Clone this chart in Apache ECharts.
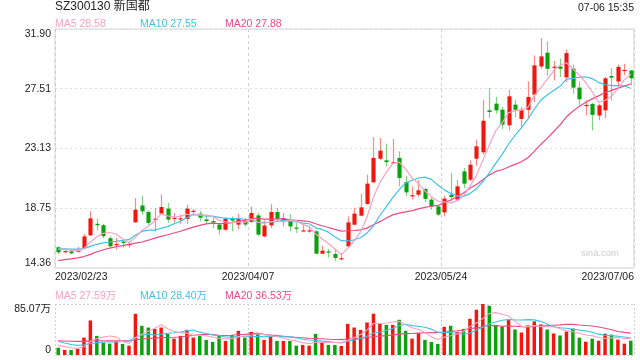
<!DOCTYPE html>
<html><head><meta charset="utf-8">
<script src="https://cdn.jsdelivr.net/npm/echarts@6/dist/echarts.min.js"></script>
<style>html,body{margin:0;padding:0;background:#fff}#c{width:640px;height:360px}</style>
</head><body><div id="c"></div>
<script>
const dates = ['2023/02/23','2023/02/24','2023/02/27','2023/02/28',
'2023/03/01','2023/03/02','2023/03/03','2023/03/06','2023/03/07','2023/03/08','2023/03/09','2023/03/10','2023/03/13','2023/03/14','2023/03/15','2023/03/16','2023/03/17','2023/03/20','2023/03/21','2023/03/22','2023/03/23','2023/03/24','2023/03/27','2023/03/28','2023/03/29','2023/03/30','2023/03/31',
'2023/04/03','2023/04/04','2023/04/06','2023/04/07','2023/04/10','2023/04/11','2023/04/12','2023/04/13','2023/04/14','2023/04/17','2023/04/18','2023/04/19','2023/04/20','2023/04/21','2023/04/24','2023/04/25','2023/04/26','2023/04/27','2023/04/28',
'2023/05/04','2023/05/05','2023/05/08','2023/05/09','2023/05/10','2023/05/11','2023/05/12','2023/05/15','2023/05/16','2023/05/17','2023/05/18','2023/05/19','2023/05/22','2023/05/23','2023/05/24','2023/05/25','2023/05/26','2023/05/29','2023/05/30','2023/05/31',
'2023/06/01','2023/06/02','2023/06/05','2023/06/06','2023/06/07','2023/06/08','2023/06/09','2023/06/12','2023/06/13','2023/06/14','2023/06/15','2023/06/16','2023/06/19','2023/06/20','2023/06/21','2023/06/26','2023/06/27','2023/06/28','2023/06/29','2023/06/30',
'2023/07/03','2023/07/04','2023/07/05','2023/07/06'];

const openP  = [15.88,15.55,15.58,15.55,15.83,16.76,17.60,17.50,16.55,16.05,16.30,16.08,17.71,18.95,18.47,17.94,18.35,18.72,17.98,17.95,
17.96,18.48,18.35,17.92,17.80,17.55,17.17,18.03,17.54,17.84,17.75,18.22,16.68,17.49,18.47,17.84,17.84,17.33,17.08,17.08,
17.05,15.41,15.58,15.39,15.00,15.95,17.54,18.20,19.06,20.65,22.38,22.26,22.08,22.44,20.68,19.64,19.74,20.16,19.38,18.88,
18.44,19.74,19.38,21.45,20.84,22.38,22.85,25.93,26.42,25.98,24.83,26.35,25.30,25.97,27.08,29.15,30.16,29.08,29.14,28.35,
28.99,27.60,26.28,26.40,25.55,25.93,28.45,28.05,28.84,28.86];
const closeP = [15.51,15.60,15.44,15.65,16.68,18.00,17.50,16.70,15.95,16.12,16.20,16.12,18.64,18.52,17.67,17.98,18.84,17.91,18.05,18.00,
18.72,18.56,18.05,17.80,17.70,17.18,17.98,17.84,17.98,17.55,18.40,16.81,17.47,18.47,17.96,18.03,17.41,17.28,17.12,17.12,
15.41,15.63,15.50,15.10,15.08,17.71,18.35,18.81,20.55,22.44,22.97,22.13,22.13,20.97,19.91,19.70,20.06,19.43,18.88,18.28,
19.45,19.57,20.35,20.55,21.94,23.29,25.17,25.81,25.93,24.88,26.96,25.97,25.97,26.91,29.23,29.89,28.98,29.14,28.98,30.13,
27.60,26.74,26.33,25.60,26.30,28.28,28.33,29.12,28.90,28.28];
const highP  = [15.95,15.78,15.66,15.90,16.86,18.52,18.00,17.60,16.70,16.57,16.48,16.35,19.50,19.67,18.60,18.75,19.75,19.13,18.40,18.28,
19.00,18.68,18.55,18.30,18.10,17.67,18.10,18.15,18.33,18.05,18.88,18.40,17.85,19.06,18.77,18.40,18.33,17.67,17.60,17.45,
17.12,16.00,15.76,15.71,15.47,18.15,18.77,19.82,21.21,23.98,23.90,23.49,23.83,22.92,21.14,20.35,20.80,20.25,19.57,18.98,
19.67,21.34,20.80,21.70,22.26,23.78,26.71,27.57,26.91,26.18,27.45,26.71,26.18,28.06,29.96,31.24,30.99,29.55,29.72,30.40,
29.28,28.06,26.66,26.49,26.42,28.38,29.04,29.28,29.35,28.86];
const lowP   = [15.39,15.45,15.36,15.50,15.78,16.70,17.10,16.55,15.88,15.72,15.85,15.85,17.68,18.28,17.50,17.05,18.33,17.67,17.70,17.60,
17.60,18.30,17.80,17.60,17.30,16.82,17.10,17.05,17.20,17.40,17.67,16.68,16.62,17.30,17.78,17.41,17.05,16.93,17.05,16.95,
15.38,15.38,15.14,14.85,14.90,15.90,17.50,18.18,19.00,20.60,22.30,21.82,22.05,20.35,19.62,19.38,19.55,19.20,18.64,18.20,
18.15,19.25,19.25,20.23,20.72,21.87,22.68,25.37,25.69,24.53,24.46,25.44,24.71,25.37,26.54,28.99,28.50,28.13,28.38,28.00,
27.15,26.30,25.56,24.46,25.20,25.37,26.66,27.52,28.50,27.76];
// volume in 万
const volume = [12.2,8.4,8.4,10.1,29.0,57.6,31.9,20.6,19.0,22.3,18.5,15.6,68.8,48.7,45.8,43.6,45.8,35.2,27.4,31.9,
41.9,29.0,31.9,25.2,21.8,31.9,23.5,33.6,40.3,29.0,38.6,35.2,25.2,31.9,23.5,23.5,23.5,15.6,16.8,15.6,
35.2,20.6,16.8,16.8,15.1,52.0,45.8,41.9,54.2,68.8,52.0,50.3,50.3,58.7,40.3,27.4,36.4,25.2,21.8,18.5,
47.0,48.7,38.6,43.6,60.4,75.5,85.07,82.2,50.3,47.5,59.4,42.6,37.6,49.4,56.1,51.0,42.6,35.9,32.6,39.3,
44.0,28.9,22.2,27.2,23.9,35.6,34.0,25.6,18.9,23.9];
// leading moving-average values (window extends before the first shown day)
const priceMa5Lead  = [15.75,15.72,15.66,15.62];
const priceMa10Lead = [15.76,15.76,15.75,15.75,15.78,15.95,16.10,16.20,16.27];
const priceMa20Lead = [14.90,14.97,15.03,15.10,15.20,15.36,15.55,15.70,15.82,15.92,16.00,16.10,16.18,16.27,16.40,16.55,16.68,16.80,16.93];
const volMa5Lead  = [16.0,14.0,12.0,11.0];
const volMa10Lead = [23.0,20.0,17.5,16.0,17.0,19.0,20.5,21.5,22.0];
const volMa20Lead = [23.5,23.3,23.0,22.8,22.8,23.5,23.8,23.8,23.8,23.8,23.8,23.6,25.5,26.5,27.5,28.2,29.0,29.3,29.6];

const priceTickLabels = ['14.36','18.75','23.13','27.51','31.90'];
const volTickLabels = ['0','85.07万'];
const dateTickLabels = [dates[0], dates[30], dates[60], dates[89]];
const titleText = 'SZ300130 新国都';
const timeText = '07-06 15:35';
const priceLegend = ['MA5 28.58','MA10 27.55','MA20 27.88'];
const volLegend = ['MA5 27.59万','MA10 28.40万','MA20 36.53万'];

const C_MA5 = '#f6a3c2', C_MA10 = '#3ec3e6', C_MA20 = '#ec4a84';
const UP = '#f3160d', DOWN = '#0aa10a';
const FONT = '"Liberation Sans", Arial, "Noto Sans CJK SC", sans-serif';

function movingAvg(arr, n, lead) {
  return arr.map((v, i) => {
    if (i < n - 1) return lead[i];
    let s = 0; for (let k = i - n + 1; k <= i; k++) s += arr[k];
    return +(s / n).toFixed(3);
  });
}

const kData = dates.map((d, i) => [i, openP[i], closeP[i], lowP[i], highP[i]]);

function renderCandle(params, api) {
  const i = api.value(0), o = api.value(1), c = api.value(2), l = api.value(3), h = api.value(4);
  const pO = api.coord([i, o]), pC = api.coord([i, c]), pL = api.coord([i, l]), pH = api.coord([i, h]);
  const w = api.size([1, 0])[0] * 0.64;
  const up = c >= o;
  const col = up ? UP : DOWN;
  const x = Math.round(pO[0]) + 0.5;
  const top = Math.min(pO[1], pC[1]);
  const bh = Math.max(1.2, Math.abs(pO[1] - pC[1]));
  return { type: 'group', children: [
    { type: 'line', shape: { x1: x, y1: pH[1], x2: x, y2: pL[1] }, style: { stroke: col, opacity: 0.5, lineWidth: 1.2 } },
    { type: 'rect', shape: { x: x - w / 2, y: top, width: w, height: bh }, style: { fill: col } }
  ]};
}

const yMin = 14.36, yMax = 31.90, yInt = (yMax - yMin) / 4;
const vMax = 85.07;

const chart = echarts.init(document.getElementById('c'), null, { renderer: 'canvas' });
const hiddenCat = (gi) => ({ type: 'category', gridIndex: gi, position: 'bottom', data: dates, boundaryGap: true,
  axisLine: { show: false }, axisTick: { show: false }, axisLabel: { show: false }, splitLine: { show: false } });

chart.setOption({
  animation: false,
  grid: [
    { left: 55, right: 6, top: 29, height: 239, show: true, borderColor: '#d4d4d4', borderWidth: 1 },
    { left: 55, right: 6, top: 304, height: 51 }
  ],
  xAxis: [
    hiddenCat(0),
    { type: 'value', gridIndex: 0, position: 'bottom', min: 0, max: 90, interval: 30,
      axisLine: { show: false }, axisTick: { show: false },
      axisLabel: { show: true, margin: 4, fontSize: 10.5, color: '#222', fontFamily: FONT,
        alignMinLabel: 'left', alignMaxLabel: 'right',
        formatter: (v) => dateTickLabels[Math.round(v / 30)] },
      splitLine: { show: true, lineStyle: { color: '#cfcfcf', type: [3, 3], width: 1 } } },
    hiddenCat(1),
    { type: 'value', gridIndex: 1, position: 'bottom', min: 0, max: 90, interval: 30,
      axisLine: { show: false }, axisTick: { show: false }, axisLabel: { show: false },
      splitLine: { show: true, lineStyle: { color: '#cfcfcf', type: [2, 2], width: 1 } } }
  ],
  yAxis: [
    { type: 'value', gridIndex: 0, min: yMin, max: yMax, interval: yInt,
      axisLine: { show: false }, axisTick: { show: false },
      axisLabel: { margin: 4, fontSize: 10.5, color: '#222', fontFamily: FONT,
        verticalAlignMinLabel: 'bottom', verticalAlignMaxLabel: 'top',
        formatter: (v) => priceTickLabels[Math.round((v - yMin) / yInt)] },
      splitLine: { show: true, lineStyle: { color: '#dcdcdc', type: [2, 3], width: 1.2 } } },
    { type: 'value', gridIndex: 1, min: 0, max: vMax, interval: vMax,
      axisLine: { show: false }, axisTick: { show: false },
      axisLabel: { margin: 4, fontSize: 10.5, color: '#222', fontFamily: FONT,
        verticalAlignMinLabel: 'bottom', verticalAlignMaxLabel: 'top',
        formatter: (v) => volTickLabels[Math.round(v / vMax)] },
      splitLine: { show: true, lineStyle: { color: '#cfcfcf', type: [2, 2], width: 1 } } }
  ],
  series: [
    { type: 'custom', xAxisIndex: 0, yAxisIndex: 0, data: kData, renderItem: renderCandle,
      encode: { x: 0, y: [1, 2, 3, 4] }, z: 3 },
    { type: 'line', xAxisIndex: 0, yAxisIndex: 0, data: movingAvg(closeP, 20, priceMa20Lead), symbol: 'none',
      lineStyle: { color: C_MA20, width: 1.2 }, z: 4 },
    { type: 'line', xAxisIndex: 0, yAxisIndex: 0, data: movingAvg(closeP, 10, priceMa10Lead), symbol: 'none',
      lineStyle: { color: C_MA10, width: 1.2 }, z: 4 },
    { type: 'line', xAxisIndex: 0, yAxisIndex: 0, data: movingAvg(closeP, 5, priceMa5Lead), symbol: 'none',
      lineStyle: { color: C_MA5, width: 1.2 }, z: 4 },
    { type: 'bar', xAxisIndex: 2, yAxisIndex: 1, barWidth: '54%',
      data: volume.map((v, i) => ({ value: v, itemStyle: { color: closeP[i] >= openP[i] ? UP : DOWN } })), z: 3 },
    { type: 'line', xAxisIndex: 2, yAxisIndex: 1, data: movingAvg(volume, 20, volMa20Lead), symbol: 'none',
      lineStyle: { color: C_MA20, width: 1.1 }, z: 4 },
    { type: 'line', xAxisIndex: 2, yAxisIndex: 1, data: movingAvg(volume, 10, volMa10Lead), symbol: 'none',
      lineStyle: { color: C_MA10, width: 1.1 }, z: 4 },
    { type: 'line', xAxisIndex: 2, yAxisIndex: 1, data: movingAvg(volume, 5, volMa5Lead), symbol: 'none',
      lineStyle: { color: C_MA5, width: 1.1 }, z: 4 }
  ],
  graphic: [
    { type: 'text', x: 55, y: 7, style: { text: titleText, fill: '#222', fontSize: 12, fontFamily: FONT, verticalAlign: 'middle' } },
    { type: 'text', x: 634, y: 8, style: { text: timeText, fill: '#222', fontSize: 10.5, fontFamily: FONT, align: 'right', verticalAlign: 'middle' } },
    { type: 'text', x: 55, y: 24, style: { text: priceLegend[0], fill: C_MA5, fontSize: 10.5, fontFamily: FONT, verticalAlign: 'middle' } },
    { type: 'text', x: 140, y: 24, style: { text: priceLegend[1], fill: C_MA10, fontSize: 10.5, fontFamily: FONT, verticalAlign: 'middle' } },
    { type: 'text', x: 225, y: 24, style: { text: priceLegend[2], fill: C_MA20, fontSize: 10.5, fontFamily: FONT, verticalAlign: 'middle' } },
    { type: 'text', x: 55, y: 296, style: { text: volLegend[0], fill: C_MA5, fontSize: 10.5, fontFamily: FONT, verticalAlign: 'middle' } },
    { type: 'text', x: 140, y: 296, style: { text: volLegend[1], fill: C_MA10, fontSize: 10.5, fontFamily: FONT, verticalAlign: 'middle' } },
    { type: 'text', x: 225, y: 296, style: { text: volLegend[2], fill: C_MA20, fontSize: 10.5, fontFamily: FONT, verticalAlign: 'middle' } },
    { type: 'text', x: 600, y: 253, style: { text: 'sina.com', fill: '#cccccc', fontSize: 9.5, fontFamily: FONT, align: 'center', verticalAlign: 'middle' } }
  ]
});
</script></body></html>
